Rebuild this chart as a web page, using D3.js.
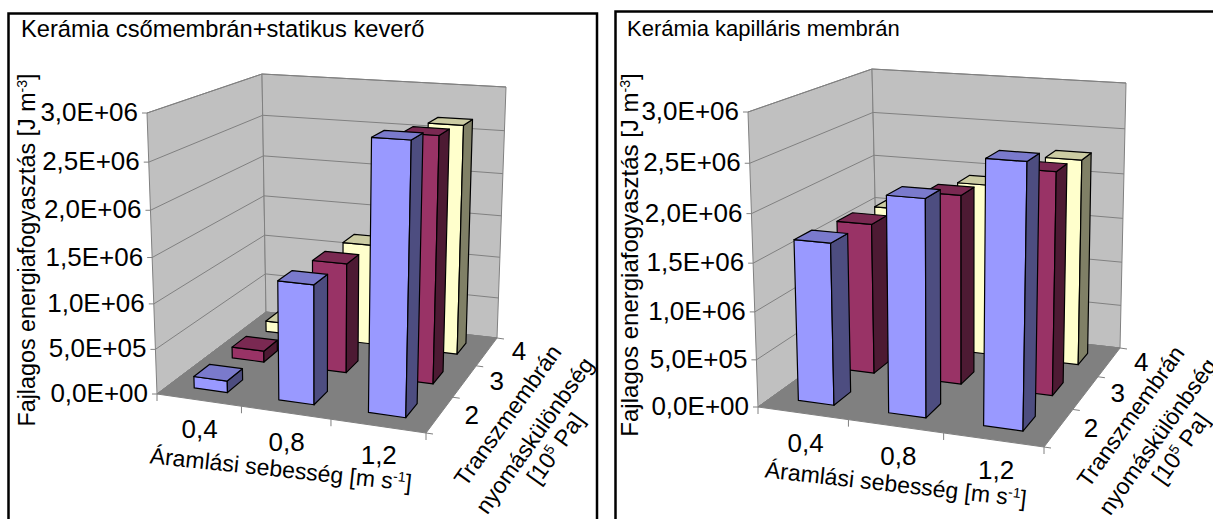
<!DOCTYPE html>
<html>
<head>
<meta charset="utf-8">
<script src="https://d3js.org/d3.v7.min.js"></script>
<style>
body { margin: 0; background: #fff; }
svg { display: block; }
text { font-family: "Liberation Sans", Arial, sans-serif; fill: #000; }
</style>
</head>
<body>
<script>
var speeds = ['0,4', '0,8', '1,2'];
var pressures = ['2', '3', '4'];
var energyTicks = [0, 5e5, 1e6, 1.5e6, 2e6, 2.5e6, 3e6];

// values per pressure [J m-3]
var tube2 = [1.3e5, 1.3e6, 2.85e6];
var tube3 = [1.3e5, 1.25e6, 2.72e6];
var tube4 = [1.3e5, 1.2e6, 2.66e6];
var capillary2 = [1.69e6, 2.22e6, 2.65e6];
var capillary3 = [1.64e6, 2.03e6, 2.35e6];
var capillary4 = [1.57e6, 1.92e6, 2.27e6];

var barColors = [
    { front: '#9999ff', top: '#7a7acc', side: '#4d4d80' },
    { front: '#993366', top: '#7a2952', side: '#4d1a33' },
    { front: '#ffffcc', top: '#ccccA3', side: '#808066' }
];

var svg = d3.select('body').append('svg').attr('width', 1213).attr('height', 519);

drawPanel({
    title: 'Kerámia csőmembrán+statikus keverő',
    titlePos: [21, 37],
    titleSize: 23.7,
    frame: [8.5, 13.5, 597, 600],
    // corners: front-left, front-right, back-left, back-right
    floor: [[157, 394], [426, 433], [266, 312], [497, 338]],
    // upper ends of the wall edges: front-left, back-left, back-right
    top: [[147, 113], [262, 74], [506, 87]],
    series: [tube2, tube3, tube4],
    yLabel: [35, 250, 23.3],
    xTitle: [280, 477, 6],
    zTitle: [[514, 420], [541, 440], [562, 453]],
    xLabelOffset: [1, 38],
    zLabelDx: 32
});

drawPanel({
    title: 'Kerámia kapilláris membrán',
    titlePos: [627, 36],
    titleSize: 22,
    frame: [615.5, 11.5, 1300, 600],
    floor: [[758, 407], [1044, 447], [878, 321], [1120, 348]],
    top: [[748, 112], [872, 69], [1126, 83]],
    series: [capillary2, capillary3, capillary4],
    yLabel: [638, 255, 24],
    xTitle: [895, 492, 6.4],
    zTitle: [[1137, 421], [1164, 441], [1187, 453]],
    xLabelOffset: [3, 39],
    zLabelDx: 32
});

// floor square to quad, then one extra column for height so the box stays in perspective
function boxProjection(floor, top) {
    var x0 = floor[0][0], y0 = floor[0][1], x1 = floor[1][0], y1 = floor[1][1];
    var x2 = floor[3][0], y2 = floor[3][1], x3 = floor[2][0], y3 = floor[2][1];
    var sx = x0 - x1 + x2 - x3, sy = y0 - y1 + y2 - y3;
    var dx1 = x1 - x2, dx2 = x3 - x2, dy1 = y1 - y2, dy2 = y3 - y2;
    var den = dx1 * dy2 - dx2 * dy1;
    var g = (sx * dy2 - dx2 * sy) / den;
    var h = (dx1 * sy - sx * dy1) / den;
    var a = x1 - x0 + g * x1, b = x3 - x0 + h * x3;
    var d = y1 - y0 + g * y1, e = y3 - y0 + h * y3;

    function base(u, v) {
        return [a * u + b * v + x0, d * u + e * v + y0, g * u + h * v + 1];
    }

    // least squares for the height column (p, q, r)
    var corners = [[0, 0], [0, 1], [1, 1]];
    var rows = [];
    corners.forEach(function(uv, i) {
        var f = base(uv[0], uv[1]), t = top[i];
        rows.push([1, 0, -t[0], t[0] * f[2] - f[0]]);
        rows.push([0, 1, -t[1], t[1] * f[2] - f[1]]);
    });
    var m = d3.range(3).map(function(i) {
        return d3.range(4).map(function(j) {
            return d3.sum(rows, function(r) { return r[i] * r[j]; });
        });
    });
    d3.range(3).forEach(function(i) {
        d3.range(3).forEach(function(k) {
            if (k === i) return;
            var f = m[k][i] / m[i][i];
            d3.range(4).forEach(function(j) { m[k][j] -= f * m[i][j]; });
        });
    });
    var p = m[0][3] / m[0][0], q = m[1][3] / m[1][1], r = m[2][3] / m[2][2];

    function raw(u, y, v) {
        var f = base(u, v);
        var w = f[2] + y * r;
        return [(f[0] + y * p) / w, (f[1] + y * q) / w];
    }

    // what the fit misses at the three top corners, spread over the box
    var miss = corners.map(function(uv, i) {
        var c = raw(uv[0], 1, uv[1]);
        return [top[i][0] - c[0], top[i][1] - c[1]];
    });

    return function(u, y, v) {
        var c = raw(u, y, v);
        return [0, 1].map(function(i) {
            return c[i] + y * (miss[0][i] + v * (miss[1][i] - miss[0][i]) + u * (miss[2][i] - miss[1][i]));
        });
    };
}

function drawPanel(cfg) {
    var g = svg.append('g');
    var project = boxProjection(cfg.floor, cfg.top);

    var xBand = d3.scaleBand().domain(speeds).range([0, 1]).paddingInner(0.6).paddingOuter(0.3);
    var zBand = d3.scaleBand().domain(pressures).range([0, 1]).paddingInner(0.6).paddingOuter(0.3);
    var yScale = d3.scaleLinear().domain([0, 3e6]).range([0, 1]);
    var line = d3.line();

    function poly(points, fill, stroke, width) {
        g.append('path')
            .attr('d', line(points) + 'Z')
            .attr('fill', fill)
            .attr('stroke', stroke)
            .attr('stroke-width', width)
            .attr('stroke-linejoin', 'round');
    }

    function segment(a, b) {
        g.append('line')
            .attr('x1', a[0]).attr('y1', a[1])
            .attr('x2', b[0]).attr('y2', b[1])
            .attr('stroke', '#808080')
            .attr('stroke-width', 1);
    }

    // frame
    g.append('rect')
        .attr('x', cfg.frame[0]).attr('y', cfg.frame[1])
        .attr('width', cfg.frame[2] - cfg.frame[0]).attr('height', cfg.frame[3] - cfg.frame[1])
        .attr('fill', '#fff')
        .attr('stroke', '#000')
        .attr('stroke-width', 2.5);

    // walls and floor
    poly([project(0, 0, 0), project(0, 1, 0), project(0, 1, 1), project(0, 0, 1)], '#c0c0c0', '#808080', 1);
    poly([project(0, 0, 1), project(0, 1, 1), project(1, 1, 1), project(1, 0, 1)], '#c0c0c0', '#808080', 1);
    poly([project(0, 0, 0), project(1, 0, 0), project(1, 0, 1), project(0, 0, 1)], '#808080', '#808080', 1);

    // gridlines and value ticks
    energyTicks.forEach(function(t) {
        var h = yScale(t);
        segment(project(0, h, 0), project(0, h, 1));
        segment(project(0, h, 1), project(1, h, 1));
        var p = project(0, h, 0);
        segment([p[0] - 5, p[1]], p);
        g.append('text')
            .attr('x', p[0] - 9).attr('y', p[1] + 8)
            .attr('text-anchor', 'end')
            .attr('font-size', 26)
            .text(t.toExponential(1).replace('.', ',').replace('e+', 'E+0'));
    });

    // category ticks and labels
    var xStep = xBand.step();
    d3.range(0, 4).forEach(function(i) {
        var p = project(i * xStep, 0, 0);
        segment(p, [p[0], p[1] + 7]);
    });
    speeds.forEach(function(s) {
        var p = project(xBand(s) + xBand.bandwidth() / 2, 0, 0);
        g.append('text')
            .attr('x', p[0] + cfg.xLabelOffset[0]).attr('y', p[1] + cfg.xLabelOffset[1])
            .attr('text-anchor', 'middle')
            .attr('font-size', 26)
            .text(s);
    });

    var zStep = zBand.step();
    d3.range(0, 4).forEach(function(i) {
        var p = project(1, 0, i * zStep);
        segment(p, [p[0] + 7, p[1] + 1]);
    });
    pressures.forEach(function(s) {
        var p = project(1, 0, zBand(s) + zBand.bandwidth() / 2);
        g.append('text')
            .attr('x', p[0] + cfg.zLabelDx).attr('y', p[1] + 9)
            .attr('text-anchor', 'middle')
            .attr('font-size', 26)
            .text(s);
    });

    // bars, back row first
    d3.range(pressures.length - 1, -1, -1).forEach(function(k) {
        var colors = barColors[k];
        speeds.forEach(function(s, i) {
            var x0 = xBand(s), x1 = x0 + xBand.bandwidth();
            var z0 = zBand(pressures[k]), z1 = z0 + zBand.bandwidth();
            var h = yScale(cfg.series[k][i]);
            poly([project(x0, 0, z0), project(x0, h, z0), project(x1, h, z0), project(x1, 0, z0)], colors.front, '#000', 1.2);
            poly([project(x1, 0, z0), project(x1, h, z0), project(x1, h, z1), project(x1, 0, z1)], colors.side, '#000', 1.2);
            poly([project(x0, h, z0), project(x0, h, z1), project(x1, h, z1), project(x1, h, z0)], colors.top, '#000', 1.2);
        });
    });

    // titles
    g.append('text')
        .attr('x', cfg.titlePos[0]).attr('y', cfg.titlePos[1])
        .attr('font-size', cfg.titleSize)
        .text(cfg.title);

    var yLabel = g.append('text')
        .attr('transform', 'translate(' + cfg.yLabel[0] + ',' + cfg.yLabel[1] + ') rotate(-90)')
        .attr('text-anchor', 'middle')
        .attr('font-size', cfg.yLabel[2]);
    yLabel.append('tspan').text('Fajlagos energiafogyasztás [J m');
    yLabel.append('tspan').attr('dy', -8).attr('font-size', 14).text('-3');
    yLabel.append('tspan').attr('dy', 8).text(']');

    var xTitle = g.append('text')
        .attr('transform', 'translate(' + cfg.xTitle[0] + ',' + cfg.xTitle[1] + ') rotate(' + cfg.xTitle[2] + ')')
        .attr('text-anchor', 'middle')
        .attr('font-size', 23);
    xTitle.append('tspan').text('Áramlási sebesség [m s');
    xTitle.append('tspan').attr('dy', -8).attr('font-size', 14).text('-1');
    xTitle.append('tspan').attr('dy', 8).text(']');

    function zLine(pos) {
        return g.append('text')
            .attr('transform', 'translate(' + pos[0] + ',' + pos[1] + ') rotate(-54.5)')
            .attr('text-anchor', 'middle')
            .attr('font-size', 23);
    }
    zLine(cfg.zTitle[0]).text('Transzmembrán');
    zLine(cfg.zTitle[1]).text('nyomáskülönbség');
    var unit = zLine(cfg.zTitle[2]);
    unit.append('tspan').text('[10');
    unit.append('tspan').attr('dy', -8).attr('font-size', 14).text('5');
    unit.append('tspan').attr('dy', 8).text(' Pa]');
}
</script>
</body>
</html>
